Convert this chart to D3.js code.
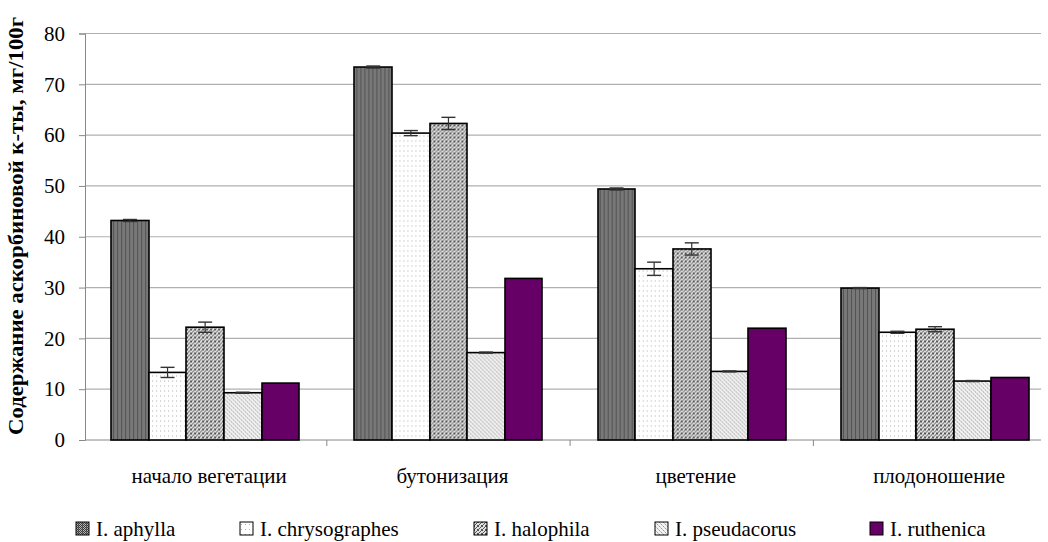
<!DOCTYPE html>
<html>
<head>
<meta charset="utf-8">
<script src="https://cdn.jsdelivr.net/npm/d3@7/dist/d3.min.js"></script>
<style>
  body { margin: 0; background: #fff; font-family: 'Times New Roman', 'Liberation Serif', serif; }
</style>
</head>
<body>
<div id="chart"></div>
<script>
var categories = ['начало вегетации', 'бутонизация', 'цветение', 'плодоношение'];
var series = ['I. aphylla', 'I. chrysographes', 'I. halophila', 'I. pseudacorus', 'I. ruthenica'];
var aphylla = [43.2, 73.4, 49.4, 29.9];
var chrysographes = [13.3, 60.4, 33.7, 21.2];
var halophila = [22.2, 62.3, 37.6, 21.8];
var pseudacorus = [9.3, 17.2, 13.5, 11.6];
var ruthenica = [11.2, 31.8, 22.0, 12.3];
// error bar half-widths
var errAphylla = [0.2, 0.2, 0.2, 0.1];
var errChrysographes = [1.0, 0.5, 1.3, 0.2];
var errHalophila = [1.0, 1.2, 1.2, 0.5];
var errPseudacorus = [0.1, 0.1, 0.1, 0.1];
var errRuthenica = [0, 0, 0, 0];
var yTicks = [0, 10, 20, 30, 40, 50, 60, 70, 80];

var values = [aphylla, chrysographes, halophila, pseudacorus, ruthenica];
var errors = [errAphylla, errChrysographes, errHalophila, errPseudacorus, errRuthenica];
var fills = ['url(#pAphylla)', 'url(#pChrys)', 'url(#pHalo)', 'url(#pPseud)', '#660066'];
var FONT = "'Times New Roman', 'Liberation Serif', serif";

var width = 1048, height = 542;
var margin = { top: 33.5, left: 85 };
var plotRight = 1041;          // gridlines end here
var baseY = 440;
var innerHeight = baseY - margin.top;
var catStep = 243.3;

var svg = d3.select('#chart').append('svg')
    .attr('width', width)
    .attr('height', height)
    .style('font-family', FONT);

// patterns
var defs = svg.append('defs');
var p1 = defs.append('pattern').attr('id', 'pAphylla').attr('patternUnits', 'userSpaceOnUse')
    .attr('width', 4).attr('height', 2);
p1.append('rect').attr('width', 4).attr('height', 2).attr('fill', '#b4b4b4');
[[0, 0], [2, 0], [1, 1], [3, 1]].forEach(function(c){
    p1.append('rect').attr('x', c[0]).attr('y', c[1]).attr('width', 1).attr('height', 1).attr('fill', '#3c3c3c');
});
p1.append('rect').attr('x', 2).attr('y', 1).attr('width', 1).attr('height', 1).attr('fill', '#6a6a6a');

var p2 = defs.append('pattern').attr('id', 'pChrys').attr('patternUnits', 'userSpaceOnUse')
    .attr('width', 4).attr('height', 5);
p2.append('rect').attr('width', 4).attr('height', 5).attr('fill', '#fff');
p2.append('rect').attr('x', 1).attr('y', 2).attr('width', 1).attr('height', 1).attr('fill', '#aaa');

var p3 = defs.append('pattern').attr('id', 'pHalo').attr('patternUnits', 'userSpaceOnUse')
    .attr('width', 4).attr('height', 4);
p3.append('rect').attr('width', 4).attr('height', 4).attr('fill', '#e0e0e0');
[[0, 0], [2, 1], [1, 2], [3, 3], [3, 0], [0, 3]].forEach(function(c){
    p3.append('rect').attr('x', c[0]).attr('y', c[1]).attr('width', 1).attr('height', 1).attr('fill', '#555');
});

var p4 = defs.append('pattern').attr('id', 'pPseud').attr('patternUnits', 'userSpaceOnUse')
    .attr('width', 4).attr('height', 4);
p4.append('rect').attr('width', 4).attr('height', 4).attr('fill', '#f2f2f2');
[[0, 0], [2, 2], [1, 1], [3, 3]].forEach(function(c, i){
    p4.append('rect').attr('x', c[0]).attr('y', c[1]).attr('width', 1).attr('height', 1)
        .attr('fill', i < 2 ? '#999' : '#c4c4c4');
});

var g = svg.append('g').attr('transform', 'translate(' + margin.left + ',' + margin.top + ')');
var innerWidth = plotRight - margin.left;

// category bands run slightly past the right edge, like the source
var x0 = d3.scaleBand().domain(categories).range([-1.5, -1.5 + catStep * categories.length])
    .paddingInner(0.227).paddingOuter(0.1135);
var x1 = d3.scaleBand().domain(series).range([0, x0.bandwidth()]);
var y = d3.scaleLinear().domain([0, 80]).range([innerHeight, 0]);

// gridlines
g.selectAll('line.grid')
    .data(yTicks.filter(function(t){ return t > 0; }))
    .enter().append('line')
    .attr('class', 'grid')
    .attr('x1', 0).attr('x2', innerWidth)
    .attr('y1', function(d){ return y(d); })
    .attr('y2', function(d){ return y(d); })
    .attr('stroke', '#b0b0b0').attr('stroke-width', 1.2);

// y axis
var yAxis = g.append('g')
    .call(d3.axisLeft(y).tickValues(yTicks).tickSize(6).tickPadding(14));
yAxis.attr('font-family', null).attr('font-size', null);
yAxis.selectAll('path, line').attr('stroke', '#888');
yAxis.selectAll('text').attr('fill', '#000').style('font-family', FONT).style('font-size', '21px');

// x axis
var xAxis = g.append('g').attr('transform', 'translate(0,' + innerHeight + ')');
xAxis.append('line').attr('x1', 0).attr('x2', innerWidth).attr('stroke', '#888');
var bounds = d3.range(1, categories.length);
xAxis.selectAll('line.tk').data(bounds).enter().append('line')
    .attr('class', 'tk')
    .attr('x1', function(d){ return x0(categories[d]) - x0.step() * x0.paddingInner() / 2; })
    .attr('x2', function(d){ return x0(categories[d]) - x0.step() * x0.paddingInner() / 2; })
    .attr('y1', 0).attr('y2', 6).attr('stroke', '#888');
xAxis.selectAll('text').data(categories).enter().append('text')
    .attr('x', function(d){ return x0(d) + x0.bandwidth() / 2 + 4; })
    .attr('y', 43)
    .attr('text-anchor', 'middle')
    .style('font-family', FONT)
    .style('font-size', '21px')
    .text(function(d){ return d; });

// bars
var groups = g.selectAll('g.cat').data(categories).enter().append('g')
    .attr('class', 'cat')
    .attr('transform', function(d){ return 'translate(' + x0(d) + ',0)'; });

groups.selectAll('rect').data(function(d, ci){
    return series.map(function(s, si){ return { c: d, s: s, si: si, v: values[si][ci], e: errors[si][ci] }; });
}).enter().append('rect')
    // snap to whole pixels so the fine fill patterns stay crisp
    .attr('x', function(d){ return Math.round(margin.left + x0(d.c) + x1(d.s)) - margin.left - x0(d.c); })
    .attr('y', function(d){ return y(d.v); })
    .attr('width', function(d){
        var a = Math.round(margin.left + x0(d.c) + x1(d.s));
        var b = Math.round(margin.left + x0(d.c) + x1(d.s) + x1.bandwidth());
        return b - a;
    })
    .attr('height', function(d){ return innerHeight - y(d.v); })
    .attr('fill', function(d){ return fills[d.si]; })
    .attr('stroke', '#000').attr('stroke-width', 1.6);

// error bars
var eb = groups.selectAll('g.err').data(function(d, ci){
    return series.map(function(s, si){ return { s: s, v: values[si][ci], e: errors[si][ci] }; })
        .filter(function(d){ return d.e > 0; });
}).enter().append('g').attr('class', 'err');
eb.append('line')
    .attr('x1', function(d){ return x1(d.s) + x1.bandwidth() / 2; })
    .attr('x2', function(d){ return x1(d.s) + x1.bandwidth() / 2; })
    .attr('y1', function(d){ return y(d.v + d.e); })
    .attr('y2', function(d){ return y(d.v - d.e); })
    .attr('stroke', '#333').attr('stroke-width', 1.2);
['+', '-'].forEach(function(sign){
    eb.append('line')
        .attr('x1', function(d){ return x1(d.s) + x1.bandwidth() / 2 - 7; })
        .attr('x2', function(d){ return x1(d.s) + x1.bandwidth() / 2 + 7; })
        .attr('y1', function(d){ return y(sign === '+' ? d.v + d.e : d.v - d.e); })
        .attr('y2', function(d){ return y(sign === '+' ? d.v + d.e : d.v - d.e); })
        .attr('stroke', '#333').attr('stroke-width', 1.4);
});

// y axis title
svg.append('text')
    .attr('transform', 'translate(23,226) rotate(-90)')
    .attr('text-anchor', 'middle')
    .attr('textLength', 418)
    .attr('lengthAdjust', 'spacingAndGlyphs')
    .style('font-family', FONT)
    .style('font-size', '20px')
    .style('font-weight', 'bold')
    .text('Содержание аскорбиновой к-ты, мг/100г');

// legend
var legendX = [76, 240, 474, 655, 870];
var legend = svg.selectAll('g.leg').data(series).enter().append('g')
    .attr('class', 'leg')
    .attr('transform', function(d, i){ return 'translate(' + legendX[i] + ',522)'; });
legend.append('rect')
    .attr('width', 13).attr('height', 13)
    .attr('fill', function(d, i){ return fills[i]; })
    .attr('stroke', '#000').attr('stroke-width', 1);
legend.append('text')
    .attr('x', 20).attr('y', 13.5)
    .style('font-family', FONT)
    .style('font-size', '21px')
    .text(function(d){ return d; });
</script>
</body>
</html>
